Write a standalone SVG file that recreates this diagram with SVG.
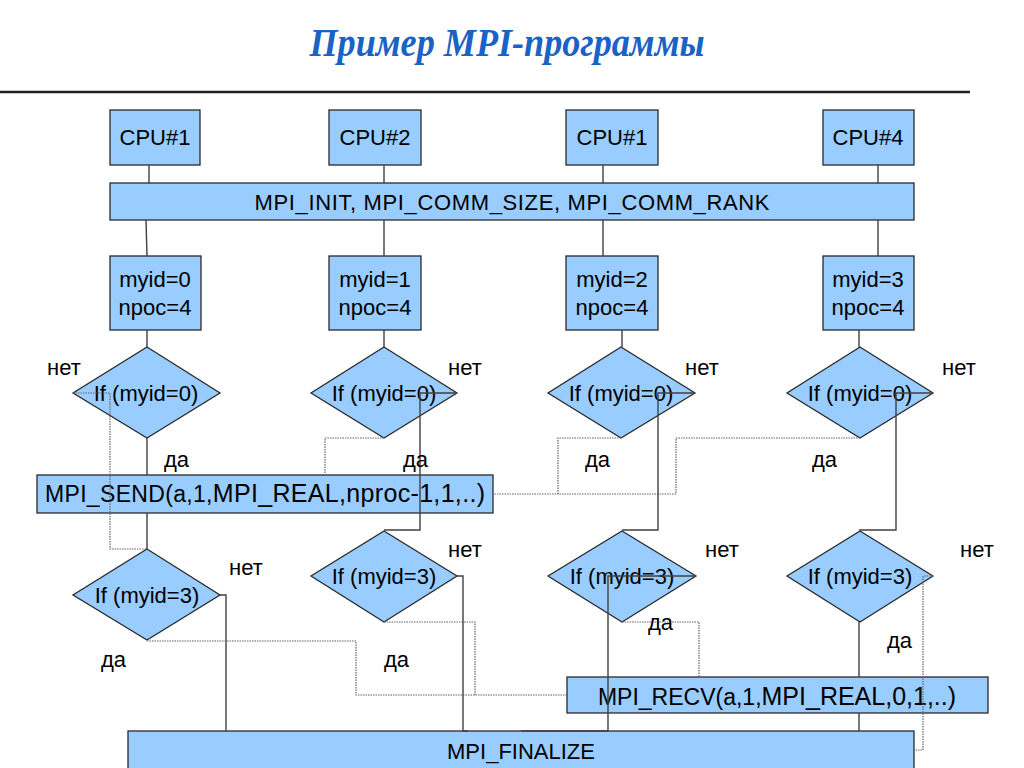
<svg xmlns="http://www.w3.org/2000/svg" width="1024" height="768" viewBox="0 0 1024 768">
<style>
.box{fill:#99ccff;stroke:#2a2a2a;stroke-width:1.3}
.t{font-family:"Liberation Sans",Arial,sans-serif;font-size:22px;fill:#000;text-anchor:middle}
.lbl{font-family:"Liberation Sans",Arial,sans-serif;font-size:22px;fill:#000}
.solid{fill:none;stroke:#404040;stroke-width:1.4}
.dot{fill:none;stroke:#666;stroke-width:1.2;stroke-dasharray:1.5 1}
</style>
<rect width="1024" height="768" fill="#fff"/>
<text x="507" y="56" font-family="'Liberation Serif','Times New Roman',serif" font-size="40" font-weight="bold" font-style="italic" fill="#1a62c6" text-anchor="middle" textLength="395" lengthAdjust="spacingAndGlyphs">Пример MPI-программы</text>
<line x1="0" y1="92" x2="970" y2="92" stroke="#222" stroke-width="2.5"/>

<g id="cpu1"><rect class="box" x="110" y="110" width="90" height="55"/><text class="t" x="155" y="145">CPU#1</text></g>
<g id="cpu2"><rect class="box" x="329" y="110" width="92" height="55"/><text class="t" x="375" y="145">CPU#2</text></g>
<g id="cpu3"><rect class="box" x="566" y="110" width="92" height="55"/><text class="t" x="612" y="145">CPU#1</text></g>
<g id="cpu4"><rect class="box" x="823" y="110" width="91" height="55"/><text class="t" x="868" y="145">CPU#4</text></g>

<g id="init"><rect class="box" x="110" y="183" width="804" height="37"/><text class="t" x="512" y="210" textLength="515" lengthAdjust="spacing">MPI_INIT, MPI_COMM_SIZE, MPI_COMM_RANK</text></g>

<g id="id0"><rect class="box" x="110" y="256" width="91" height="74"/><text class="t" x="155" y="287">myid=0</text><text class="t" x="155" y="315">npoc=4</text></g>
<g id="id1"><rect class="box" x="329" y="256" width="92" height="74"/><text class="t" x="375" y="287">myid=1</text><text class="t" x="375" y="315">npoc=4</text></g>
<g id="id2"><rect class="box" x="566" y="256" width="92" height="74"/><text class="t" x="612" y="287">myid=2</text><text class="t" x="612" y="315">npoc=4</text></g>
<g id="id3"><rect class="box" x="823" y="256" width="91" height="74"/><text class="t" x="868" y="287">myid=3</text><text class="t" x="868" y="315">npoc=4</text></g>

<g id="if0a"><polygon class="box" points="147,347 220,393 147,438 73,393"/><text class="t" x="146" y="401">If (myid=0)</text></g>
<g id="if0b"><polygon class="box" points="384,347 457,393 384,438 311,393"/><text class="t" x="384" y="401">If (myid=0)</text></g>
<g id="if0c"><polygon class="box" points="621,347 695,393 621,438 548,393"/><text class="t" x="621" y="401">If (myid=0)</text></g>
<g id="if0d"><polygon class="box" points="860,347 933,393 860,438 787,393"/><text class="t" x="860" y="401">If (myid=0)</text></g>

<g id="send"><rect class="box" x="37" y="475" width="456" height="38"/><text class="t" x="265" y="502" textLength="440" lengthAdjust="spacing"><tspan font-size="23">MPI_SEND(a,1,</tspan><tspan font-size="25">MPI_REAL,nproc-1,1,..)</tspan></text></g>

<g id="if3a"><polygon class="box" points="147,549 220,595 147,640 73,595"/><text class="t" x="147" y="603">If (myid=3)</text></g>
<g id="if3b"><polygon class="box" points="384,531 457,576 384,622 311,576"/><text class="t" x="384" y="584">If (myid=3)</text></g>
<g id="if3c"><polygon class="box" points="622,531 696,576 622,622 548,576"/><text class="t" x="622" y="584">If (myid=3)</text></g>
<g id="if3d"><polygon class="box" points="860,531 933,576 860,622 787,576"/><text class="t" x="860" y="584">If (myid=3)</text></g>

<g id="recv"><rect class="box" x="567" y="677" width="421" height="36"/><text class="t" x="777" y="705"><tspan font-size="23">MPI_RECV(a,1,</tspan><tspan font-size="25">MPI_REAL,0,1,..)</tspan></text></g>

<g id="fin"><rect class="box" x="128" y="731" width="786" height="45"/><text class="t" x="521" y="759">MPI_FINALIZE</text></g>

<g id="connectors">
<line class="solid" x1="149" y1="165" x2="149" y2="183"/>
<line class="solid" x1="384" y1="165" x2="384" y2="183"/>
<line class="solid" x1="603" y1="165" x2="603" y2="183"/>
<line class="solid" x1="878" y1="165" x2="878" y2="183"/>
<line class="solid" x1="146" y1="220" x2="147" y2="256"/>
<line class="solid" x1="384" y1="220" x2="384" y2="256"/>
<line class="solid" x1="603" y1="220" x2="603" y2="256"/>
<line class="solid" x1="878" y1="220" x2="878" y2="256"/>
<line class="solid" x1="147" y1="330" x2="147" y2="347"/>
<line class="solid" x1="384" y1="330" x2="384" y2="347"/>
<line class="solid" x1="622" y1="330" x2="622" y2="347"/>
<line class="solid" x1="859" y1="330" x2="859" y2="347"/>

<path class="dot" d="M73,393 H110 V549 H147"/>
<line class="solid" x1="147" y1="438" x2="147" y2="475"/>
<line class="solid" x1="147" y1="513" x2="147" y2="549"/>
<path class="dot" d="M384,438 H325 V475"/>
<path class="solid" d="M457,393 H420 V530 H384"/>
<path class="dot" d="M621,438 H558 V494"/>
<path class="dot" d="M860,438 H676 V494 H493"/>
<path class="solid" d="M695,393 H658 V530 H622"/>
<path class="solid" d="M933,393 H896 V530 H859"/>

<path class="solid" d="M220,595 H226 V731"/>
<path class="dot" d="M147,641 H356 V695 H567"/>
<path class="dot" d="M384,622 H475 V695"/>
<path class="solid" d="M457,576 H463 V731 H468"/>
<path class="solid" d="M696,576 H608 V731 H521"/>
<path class="dot" d="M622,622 H699 V677"/>
<line class="solid" x1="859" y1="622" x2="859" y2="677"/>
<line class="solid" x1="859" y1="713" x2="859" y2="731"/>
<path class="dot" d="M933,576 H923 V750 H914"/>
</g>

<g id="labels">
<text class="lbl" x="47" y="375">нет</text>
<text class="lbl" x="448" y="375">нет</text>
<text class="lbl" x="685" y="375">нет</text>
<text class="lbl" x="942" y="375">нет</text>
<text class="lbl" x="164" y="467">да</text>
<text class="lbl" x="403" y="467">да</text>
<text class="lbl" x="585" y="467">да</text>
<text class="lbl" x="812" y="467">да</text>
<text class="lbl" x="229" y="575">нет</text>
<text class="lbl" x="448" y="557">нет</text>
<text class="lbl" x="705" y="557">нет</text>
<text class="lbl" x="960" y="557">нет</text>
<text class="lbl" x="101" y="667">да</text>
<text class="lbl" x="384" y="667">да</text>
<text class="lbl" x="648" y="630">да</text>
<text class="lbl" x="887" y="648">да</text>
</g>
</svg>
